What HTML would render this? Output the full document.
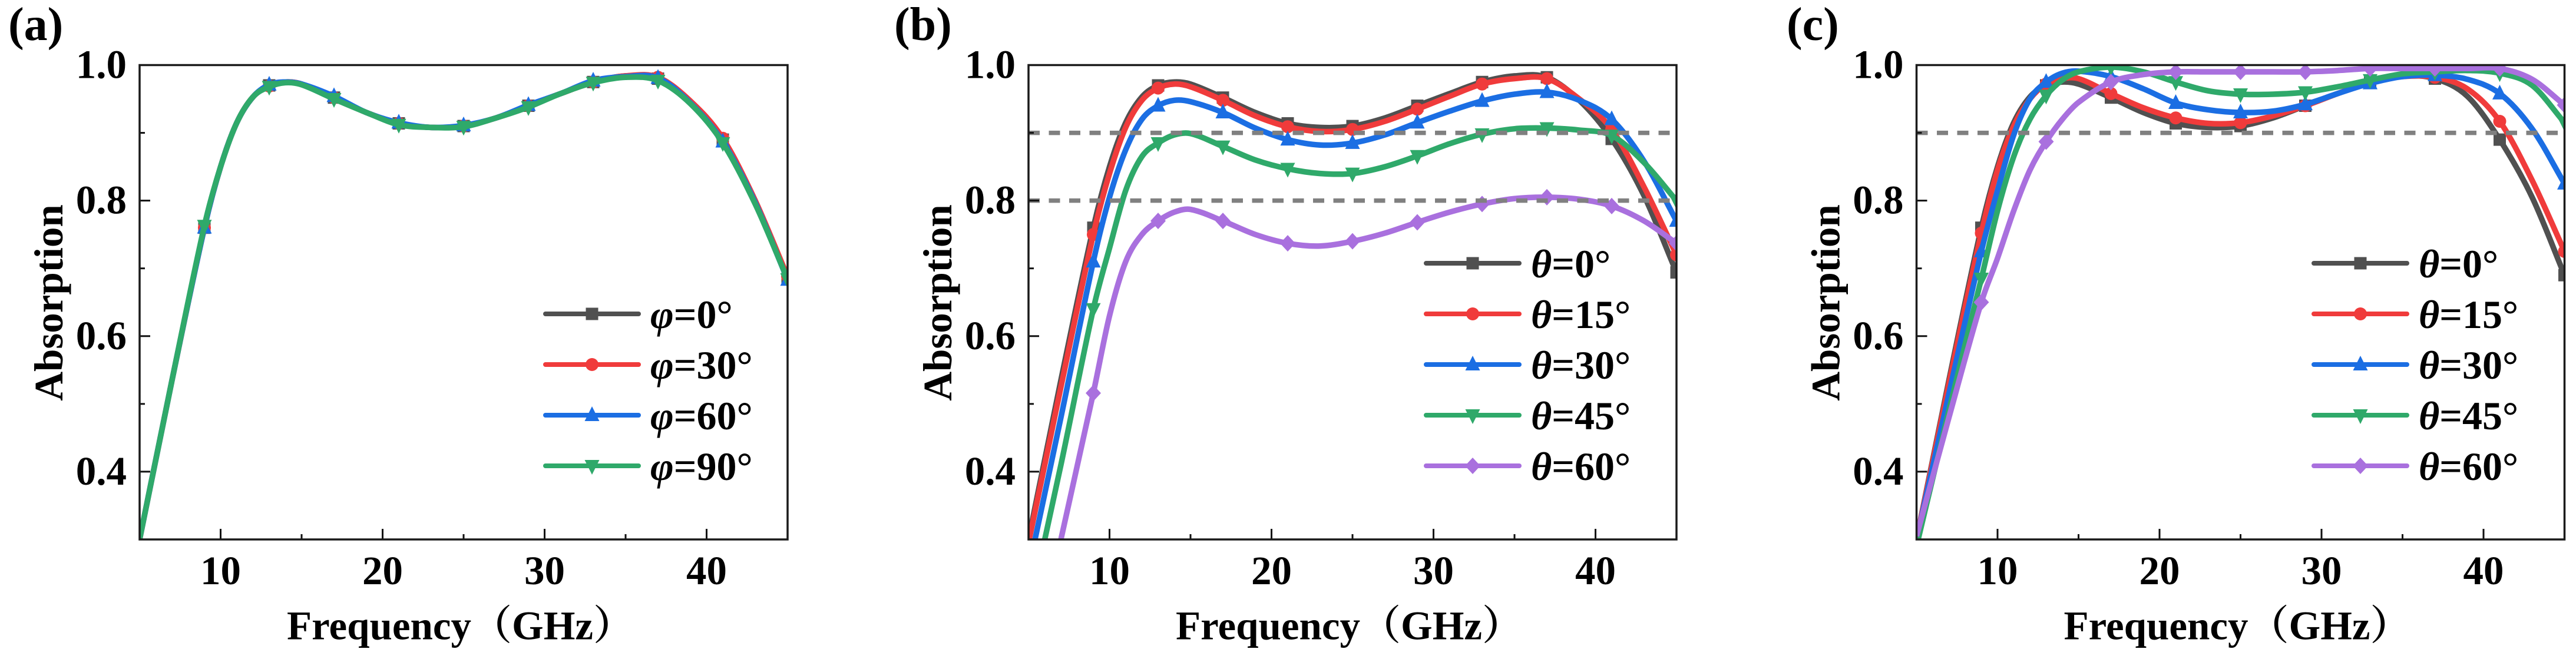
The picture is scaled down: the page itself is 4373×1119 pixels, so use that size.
<!DOCTYPE html>
<html lang="en">
<head>
<meta charset="utf-8">
<title>Absorption vs frequency</title>
<style>
html,body{margin:0;padding:0;background:#fff;}
svg{display:block;}
text{font-family:"Liberation Serif","Noto Serif CJK SC",serif;font-weight:bold;fill:#000;}
</style>
</head>
<body>
<svg id="figure" xmlns="http://www.w3.org/2000/svg" width="4373" height="1119" viewBox="0 0 4373 1119"></svg>
<script>
const freq = [5,7,9,10,11,12,13,14,15,17,19,21,23,25,27,29,31,33,35,37,39,41,43,45];
const markerFreq = [9,13,17,21,25,29,33,37,41,45];
const xMajorTicks = [10,20,30,40];
const xMinorTicks = [15,25,35];
const yMajorTicks = [0.4,0.6,0.8,1.0];
const yMinorTicks = [0.5,0.7,0.9];

const phi0  = [.30,.535,.76,.85,.915,.953,.970,.975,.972,.952,.93,.914,.908,.910,.922,.940,.958,.975,.984,.980,.945,.890,.80,.685];
const phi30 = [.30,.535,.76,.85,.915,.953,.969,.975,.972,.952,.93,.914,.908,.910,.922,.940,.958,.975,.984,.982,.947,.892,.80,.688];
const phi60 = [.30,.535,.76,.85,.915,.953,.971,.975,.972,.954,.93,.915,.908,.911,.922,.941,.958,.977,.983,.981,.944,.887,.797,.683];
const phi90 = [.30,.535,.763,.85,.915,.953,.968,.974,.971,.950,.93,.912,.908,.909,.922,.938,.958,.974,.982,.977,.943,.885,.795,.684];

const bTheta0  = [.30,.535,.76,.85,.915,.953,.970,.975,.972,.952,.93,.914,.908,.910,.922,.940,.958,.975,.984,.982,.948,.891,.807,.694];
const bTheta15 = [.295,.525,.75,.84,.908,.948,.966,.972,.968,.948,.925,.909,.902,.905,.917,.935,.954,.972,.980,.980,.95,.905,.82,.72];
const bTheta30 = [.255,.48,.71,.805,.875,.92,.94,.948,.946,.93,.907,.89,.882,.885,.897,.915,.932,.947,.957,.96,.948,.92,.858,.77];
const bTheta45 = [.19,.41,.64,.73,.815,.865,.885,.897,.899,.88,.86,.847,.84,.84,.85,.866,.884,.898,.906,.907,.904,.896,.856,.80];
const bTheta60 = [.08,.30,.516,.63,.71,.75,.77,.783,.787,.77,.75,.737,.733,.74,.752,.768,.783,.795,.803,.805,.802,.792,.77,.737];

const cTheta0  = [.30,.535,.76,.85,.915,.953,.970,.975,.972,.952,.93,.914,.908,.910,.922,.940,.958,.975,.984,.980,.954,.890,.805,.69];
const cTheta15 = [.30,.53,.752,.845,.91,.95,.972,.98,.98,.958,.937,.922,.914,.915,.925,.94,.958,.975,.983,.982,.965,.917,.83,.725];
const cTheta30 = [.30,.515,.725,.815,.897,.95,.975,.988,.991,.983,.965,.944,.934,.93,.932,.942,.958,.973,.983,.985,.979,.958,.906,.825];
const cTheta45 = [.29,.49,.685,.785,.865,.92,.955,.978,.99,.997,.99,.975,.962,.957,.957,.96,.968,.978,.987,.99,.992,.988,.97,.915];
const cTheta60 = [.305,.48,.65,.715,.785,.845,.887,.92,.945,.975,.986,.99,.99,.99,.99,.99,.992,.995,.995,.995,.995,.995,.979,.941];

const phiLabels = ["0°","30°","60°","90°"];
const thetaLabels = ["0°","15°","30°","45°","60°"];
const bReferenceLevels = [0.9,0.8];
const cReferenceLevels = [0.9];

const colors = ["#505050","#F03B3B","#1B6EE3","#2FA96A","#A970DE"];
const shapes = ["square","circle","up","down","diamond"];
const SVGNS = "http://www.w3.org/2000/svg";
const svg = document.getElementById("figure");

const FRAME_W = 1100, FRAME_TOP = 110.5, FRAME_BOTTOM = 916;
const panels = [
  {id:"a",left:237,letterX:14,symbol:"φ",labels:phiLabels,series:[phi0,phi30,phi60,phi90],refs:[],legendTop:533,legendX:926,colorIdx:[0,1,2,3]},
  {id:"b",left:1746,letterX:1518,symbol:"θ",labels:thetaLabels,series:[bTheta0,bTheta15,bTheta30,bTheta45,bTheta60],refs:bReferenceLevels,legendTop:447,legendX:2421,colorIdx:[0,1,2,3,4]},
  {id:"c",left:3253.5,letterX:3033,symbol:"θ",labels:thetaLabels,series:[cTheta0,cTheta15,cTheta30,cTheta45,cTheta60],refs:cReferenceLevels,legendTop:447,legendX:3928,colorIdx:[0,1,2,3,4]}
];

function make(tag, attrs, parent){
  const el = document.createElementNS(SVGNS, tag);
  for (const k in attrs) el.setAttribute(k, attrs[k]);
  parent.appendChild(el);
  return el;
}
function yScale(v){ return FRAME_BOTTOM - (v - 0.3) / 0.7 * (FRAME_BOTTOM - FRAME_TOP); }
function xScale(p, f){ return p.left + (f - 5) / 40 * FRAME_W; }

function curvePath(p, values){
  const xs = freq.map(f => xScale(p, f));
  const ys = values.map(yScale);
  const n = xs.length;
  const m = xs.map((_, i) => {
    const a = Math.max(i - 1, 0), b = Math.min(i + 1, n - 1);
    return (ys[b] - ys[a]) / (xs[b] - xs[a]);
  });
  let d = "M" + xs[0] + " " + ys[0];
  for (let i = 0; i < n - 1; i++) {
    const dx = (xs[i + 1] - xs[i]) / 3;
    d += "C" + (xs[i] + dx) + " " + (ys[i] + m[i] * dx) + " " + (xs[i + 1] - dx) + " " + (ys[i + 1] - m[i + 1] * dx) + " " + xs[i + 1] + " " + ys[i + 1];
  }
  return d;
}

function drawMarker(shape, cx, cy, color, parent){
  let el;
  if (shape === "square") {
    el = make("rect", {x:cx - 10.5, y:cy - 10.5, width:21, height:21, fill:color}, parent);
  } else if (shape === "circle") {
    el = make("circle", {cx:cx, cy:cy, r:11, fill:color}, parent);
  } else if (shape === "up") {
    el = make("polygon", {points:(cx - 12.5) + "," + (cy + 10) + " " + (cx + 12.5) + "," + (cy + 10) + " " + cx + "," + (cy - 15), fill:color}, parent);
  } else if (shape === "down") {
    el = make("polygon", {points:(cx - 12.5) + "," + (cy - 10) + " " + (cx + 12.5) + "," + (cy - 10) + " " + cx + "," + (cy + 15), fill:color}, parent);
  } else {
    el = make("polygon", {points:(cx - 13) + "," + cy + " " + cx + "," + (cy - 14) + " " + (cx + 13) + "," + cy + " " + cx + "," + (cy + 14), fill:color}, parent);
  }
  return el;
}

panels.forEach(p => {
  const right = p.left + FRAME_W;
  const group = make("g", {}, svg);
  
  

  const letter = make("text", {x:p.letterX, y:68, "font-size":80}, group);
  letter.textContent = "(" + p.id + ")";
  
  

  const defs = make("defs", {}, group);
  const clip = make("clipPath", {id:"clip-" + p.id}, defs);
  make("rect", {x:p.left, y:FRAME_TOP, width:FRAME_W, height:FRAME_BOTTOM - FRAME_TOP}, clip);

  const plot = make("g", {"clip-path":"url(#clip-" + p.id + ")"}, group);
  
  

  p.series.forEach((values, s) => {
    const color = colors[p.colorIdx[s]];
    const shape = shapes[p.colorIdx[s]];
    const line = make("path", {d:curvePath(p, values), fill:"none", stroke:color, "stroke-width":9.5, "stroke-linejoin":"round"}, plot);
    
    
    markerFreq.forEach(f => {
      const v = values[freq.indexOf(f)];
      const mk = drawMarker(shape, xScale(p, f), yScale(v), color, plot);
      
      
    });
  });

  p.refs.forEach(level => {
    const ref = make("line", {x1:p.left, x2:right - 5, y1:yScale(level), y2:yScale(level), stroke:"#808080", "stroke-width":7.5, "stroke-dasharray":"19 15.5", "stroke-dashoffset":"0"}, plot);
    
    
  });

  xMajorTicks.forEach(t => {
    const x = xScale(p, t);
    const tick = make("line", {x1:x, x2:x, y1:FRAME_BOTTOM, y2:FRAME_BOTTOM - 18, stroke:"#111", "stroke-width":3}, group);
    
    
    const lab = make("text", {x:x, y:992, "font-size":69, "text-anchor":"middle"}, group);
    lab.textContent = String(t);
    
    
  });
  xMinorTicks.forEach(t => {
    const x = xScale(p, t);
    const tick = make("line", {x1:x, x2:x, y1:FRAME_BOTTOM, y2:FRAME_BOTTOM - 9, stroke:"#111", "stroke-width":3}, group);
    
    
  });
  yMajorTicks.forEach(t => {
    const y = yScale(t);
    const tick = make("line", {x1:p.left, x2:p.left + 18, y1:y, y2:y, stroke:"#111", "stroke-width":3}, group);
    
    
    const lab = make("text", {x:p.left - 22, y:y + 22, "font-size":69, "text-anchor":"end"}, group);
    lab.textContent = t.toFixed(1);
    
    
  });
  yMinorTicks.forEach(t => {
    const y = yScale(t);
    const tick = make("line", {x1:p.left, x2:p.left + 9, y1:y, y2:y, stroke:"#111", "stroke-width":3}, group);
    
    
  });

  const frame = make("rect", {x:p.left, y:FRAME_TOP, width:FRAME_W, height:FRAME_BOTTOM - FRAME_TOP, fill:"none", stroke:"#1a1a1a", "stroke-width":3.5}, group);
  
  

  const yTitle = make("text", {transform:"translate(" + (p.left - 131) + ",514) rotate(-90)", "font-size":69, "text-anchor":"middle"}, group);
  yTitle.textContent = "Absorption";
  
  

  const xTitle = make("text", {x:p.left + 250, y:1085.5, "font-size":69}, group);
  xTitle.textContent = "Frequency（GHz）";
  
  

  p.labels.forEach((label, i) => {
    const color = colors[p.colorIdx[i]];
    const shape = shapes[p.colorIdx[i]];
    const rowY = p.legendTop + i * 86;
    const entry = make("g", {}, group);
    
    
    const sw = make("line", {x1:p.legendX, x2:p.legendX + 158, y1:rowY, y2:rowY, stroke:color, "stroke-width":8, "stroke-linecap":"round"}, entry);
    
    
    const mk = drawMarker(shape, p.legendX + 79, rowY, color, entry);
    
    
    const tx = make("text", {x:p.legendX + 178, y:rowY + 24, "font-size":68}, entry);
    
    
    const sym = make("tspan", {"font-style":"italic"}, tx);
    sym.textContent = p.symbol;
    const rest = make("tspan", {}, tx);
    rest.textContent = "=" + label;
  });
});
</script>
</body>
</html>
